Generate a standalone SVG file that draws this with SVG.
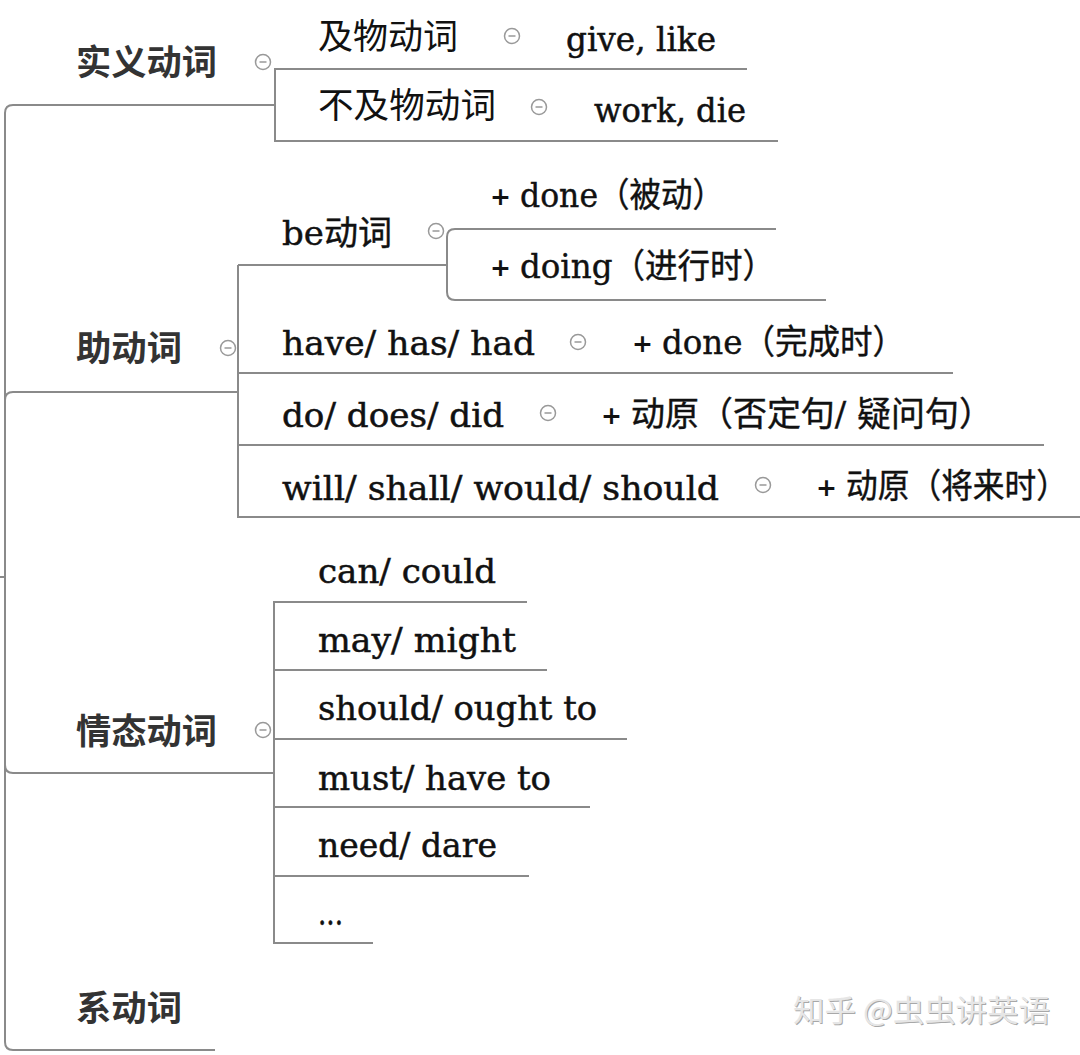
<svg xmlns="http://www.w3.org/2000/svg" width="1080" height="1055" viewBox="0 0 1080 1055">
<style>
.ln{fill:none;stroke:#8a8a8a;stroke-width:2}
.main{font-family:"Noto Sans CJK SC",sans-serif;font-weight:bold;font-size:35px;fill:#333}
.cjk{font-family:"Noto Sans CJK SC",sans-serif;font-size:35px;fill:#111}
.lat{font-family:"DejaVu Serif","Noto Sans CJK SC",serif;font-size:34px;fill:#111;stroke:#111;stroke-width:0.5}
.mix{font-family:"DejaVu Serif","Noto Sans CJK SC",serif;font-size:34px;fill:#111;stroke:#111;stroke-width:0.4}
.plus{font-family:"DejaVu Sans",sans-serif;font-weight:bold;font-size:25px;fill:#111}
.wm{font-family:"Noto Sans CJK SC",sans-serif;font-size:30px}
</style>
<defs>
<g id="minus"><circle cx="0" cy="0" r="7.5" fill="#fff" stroke="#999" stroke-width="1.5"/><path d="M-3.5,0H3.5" stroke="#999" stroke-width="1.5"/></g>
</defs>
<rect width="1080" height="1055" fill="#fff"/>
<g id="connectors">
<path class="ln" d="M0,577H5"/>
<path class="ln" d="M275,105H13Q5,105 5,113V1042Q5,1050 13,1050H215"/>
<path class="ln" d="M5,400Q5,392 13,392H238"/>
<path class="ln" d="M5,765Q5,773 13,773H274"/>
<path class="ln" d="M747,69H275V141H778"/>
<path class="ln" d="M238,265H447"/>
<path class="ln" d="M776,229H455Q447,229 447,237V292Q447,300 455,300H826"/>
<path class="ln" d="M238,265V517H1080"/>
<path class="ln" d="M238,373H953"/>
<path class="ln" d="M238,445H1044"/>
<path class="ln" d="M527,602H274V943H373"/>
<path class="ln" d="M274,670H547"/>
<path class="ln" d="M274,739H627"/>
<path class="ln" d="M274,807H590"/>
<path class="ln" d="M274,876H529"/>
</g>
<g id="controls">
<use href="#minus" x="263" y="62"/>
<use href="#minus" x="512" y="36"/>
<use href="#minus" x="539" y="107"/>
<use href="#minus" x="436" y="231"/>
<use href="#minus" x="228" y="348"/>
<use href="#minus" x="578" y="342"/>
<use href="#minus" x="548" y="413"/>
<use href="#minus" x="763" y="485"/>
<use href="#minus" x="263" y="730"/>
</g>
<g id="n-shiyi"><text class="main" x="76" y="75" textLength="141" lengthAdjust="spacingAndGlyphs">实义动词</text></g>
<g id="n-jiwu"><text class="cjk" x="318" y="49" textLength="140" lengthAdjust="spacingAndGlyphs">及物动词</text></g>
<g id="n-givelike"><text class="lat" x="566" y="51" textLength="150" lengthAdjust="spacingAndGlyphs">give, like</text></g>
<g id="n-bujiwu"><text class="cjk" x="318" y="118" textLength="178" lengthAdjust="spacingAndGlyphs">不及物动词</text></g>
<g id="n-workdie"><text class="lat" x="594" y="122" textLength="152" lengthAdjust="spacingAndGlyphs">work, die</text></g>
<g id="n-zhu"><text class="main" x="76" y="361" textLength="106" lengthAdjust="spacingAndGlyphs">助动词</text></g>
<g id="n-be"><text class="mix" x="282" y="245" textLength="110" lengthAdjust="spacingAndGlyphs">be动词</text></g>
<g id="n-done1"><text class="plus" x="490" y="205">+</text><text class="mix" x="520" y="207" textLength="204" lengthAdjust="spacingAndGlyphs">done（被动）</text></g>
<g id="n-doing"><text class="plus" x="490" y="276">+</text><text class="mix" x="520" y="278" textLength="255" lengthAdjust="spacingAndGlyphs">doing（进行时）</text></g>
<g id="n-have"><text class="lat" x="282" y="355" textLength="253" lengthAdjust="spacingAndGlyphs">have/ has/ had</text></g>
<g id="n-done2"><text class="plus" x="632" y="352">+</text><text class="mix" x="662" y="354" textLength="243" lengthAdjust="spacingAndGlyphs">done（完成时）</text></g>
<g id="n-do"><text class="lat" x="282" y="427" textLength="222" lengthAdjust="spacingAndGlyphs">do/ does/ did</text></g>
<g id="n-dongyuan1"><text class="plus" x="601" y="424">+</text><text class="mix" x="631" y="426" textLength="362" lengthAdjust="spacingAndGlyphs">动原（否定句/ 疑问句）</text></g>
<g id="n-will"><text class="lat" x="282" y="500" textLength="437" lengthAdjust="spacingAndGlyphs">will/ shall/ would/ should</text></g>
<g id="n-dongyuan2"><text class="plus" x="816" y="496">+</text><text class="mix" x="846" y="498" textLength="222" lengthAdjust="spacingAndGlyphs">动原（将来时）</text></g>
<g id="n-qingtai"><text class="main" x="76" y="744" textLength="141" lengthAdjust="spacingAndGlyphs">情态动词</text></g>
<g id="n-can"><text class="lat" x="318" y="583" textLength="178" lengthAdjust="spacingAndGlyphs">can/ could</text></g>
<g id="n-may"><text class="lat" x="318" y="652" textLength="198" lengthAdjust="spacingAndGlyphs">may/ might</text></g>
<g id="n-should"><text class="lat" x="318" y="720" textLength="279" lengthAdjust="spacingAndGlyphs">should/ ought to</text></g>
<g id="n-must"><text class="lat" x="318" y="790" textLength="233" lengthAdjust="spacingAndGlyphs">must/ have to</text></g>
<g id="n-need"><text class="lat" x="318" y="857" textLength="179" lengthAdjust="spacingAndGlyphs">need/ dare</text></g>
<g id="n-etc"><text class="lat" x="318" y="925" textLength="25" lengthAdjust="spacingAndGlyphs">...</text></g>
<g id="n-xi"><text class="main" x="76" y="1021" textLength="106" lengthAdjust="spacingAndGlyphs">系动词</text></g>
<g id="watermark">
<text class="wm" x="794" y="1022" fill="#a8a8a8" textLength="257" lengthAdjust="spacingAndGlyphs">知乎 @虫虫讲英语</text>
<text class="wm" x="793" y="1021" fill="#e6e6e6" textLength="257" lengthAdjust="spacingAndGlyphs">知乎 @虫虫讲英语</text>
</g>
</svg>
